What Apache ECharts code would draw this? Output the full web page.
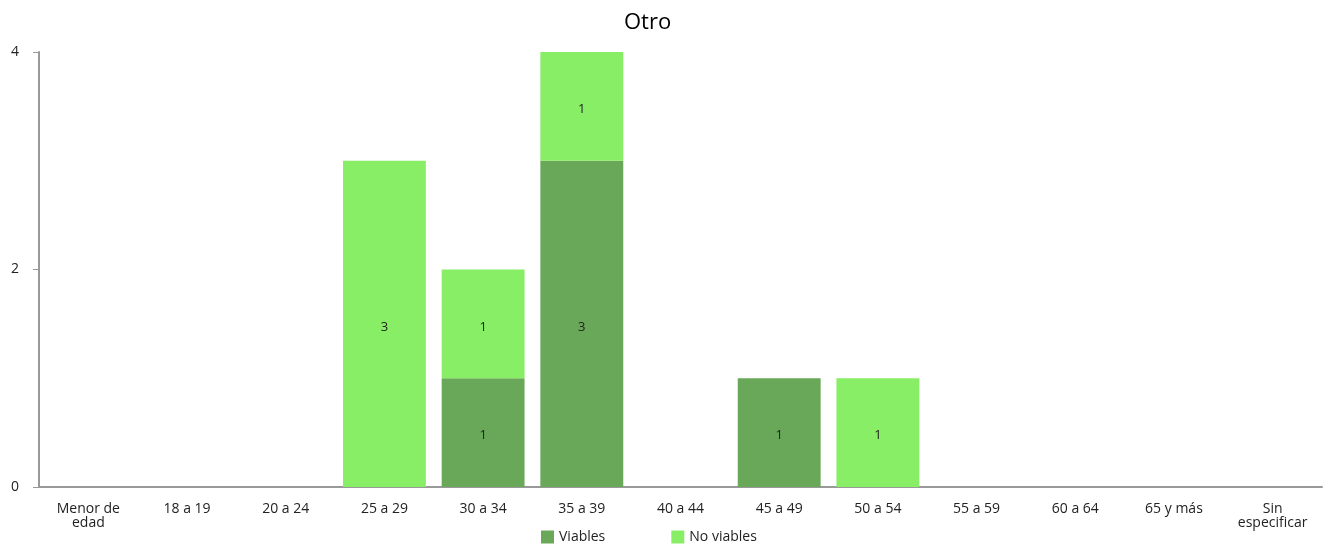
<!DOCTYPE html>
<html><head><meta charset="utf-8">
<script src="https://cdn.jsdelivr.net/npm/echarts@6/dist/echarts.min.js"></script>
<style>html,body{margin:0;padding:0;background:#fff}#c{width:1334px;height:547px}</style>
</head><body><div id="c"></div>
<script>
const title = 'Otro';
const categories = ['Menor de\nedad','18 a 19','20 a 24','25 a 29','30 a 34','35 a 39','40 a 44','45 a 49','50 a 54','55 a 59','60 a 64','65 y más','Sin\nespecificar'];
const viables = [0,0,0,0,1,3,0,1,0,0,0,0,0];
const noViables = [0,0,0,3,1,1,0,0,1,0,0,0,0];
const yTicks = [0,2,4];
const font = '"Open Sans", "Noto Sans", sans-serif';
const chart = echarts.init(document.getElementById('c'));
const lbl = {show:true, position:'inside', color:'#222', fontSize:13, fontFamily:font,
  offset:[0,3], formatter: p => p.value ? String(p.value) : ''};
chart.setOption({
  animation:false,
  title:{text:title,left:619,top:7,textStyle:{fontFamily:font,fontSize:22,fontWeight:'normal',color:'#000'}},
  grid:{left:39,right:12,top:52,bottom:60,containLabel:false},
  legend:{bottom:-2,left:536,itemGap:66,itemWidth:13,itemHeight:13,icon:'rect',
    textStyle:{fontFamily:font,fontSize:14,color:'#222'}},
  xAxis:{type:'category',data:categories,
    axisLine:{lineStyle:{color:'#999',width:2}},axisTick:{show:false},
    axisLabel:{interval:0,color:'#222',fontFamily:font,fontSize:14,lineHeight:14,margin:15}},
  yAxis:{type:'value',min:yTicks[0],max:yTicks[yTicks.length-1],interval:2,
    splitLine:{show:false},
    axisLine:{show:true,lineStyle:{color:'#999',width:2}},
    axisTick:{show:true,length:6,lineStyle:{color:'#999'}},
    axisLabel:{color:'#222',fontFamily:font,fontSize:14,margin:20}},
  series:[
    {name:'Viables',type:'bar',stack:'a',data:viables,barCategoryGap:'16%',
      itemStyle:{color:'#6aa859'},label:lbl},
    {name:'No viables',type:'bar',stack:'a',data:noViables,barCategoryGap:'16%',
      itemStyle:{color:'#88ee66'},label:lbl}
  ]
});
</script></body></html>
